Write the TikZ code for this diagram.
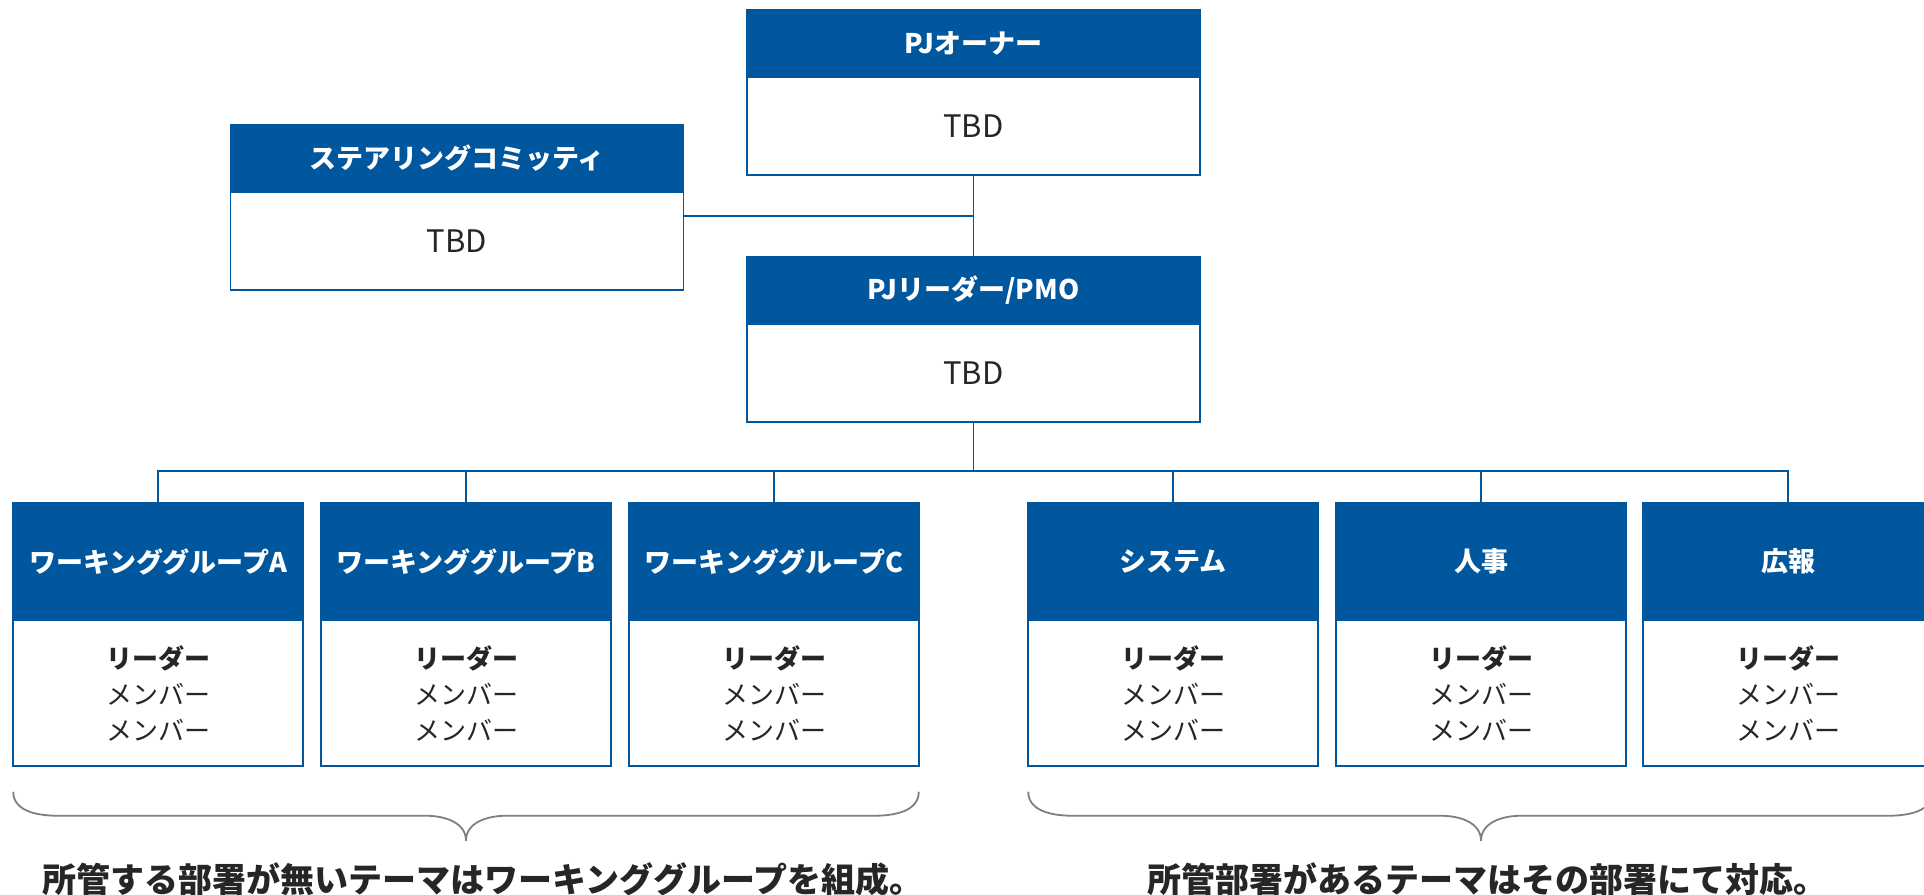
\documentclass[tikz,border=0pt]{standalone}
\usepackage{fontspec}
\setmainfont{Noto Sans CJK JP}
\usetikzlibrary{calc}
\definecolor{hblue}{RGB}{0,87,158}
\definecolor{txt}{RGB}{38,38,38}
\definecolor{brc}{RGB}{127,127,127}
\begin{document}
\begin{tikzpicture}[x=1pt,y=-1pt,
  hdr/.style={fill=hblue,draw=hblue,line width=1.5pt,text=white,font=\fontsize{27}{32}\selectfont\bfseries,inner sep=0pt},
  bdy/.style={fill=white,draw=hblue,line width=1.5pt,text=txt,align=center,inner sep=0pt},
  topw/.style={minimum width=453},
  toph/.style={minimum height=67},
  topb/.style={minimum height=98,font=\fontsize{31}{36}\selectfont},
  botw/.style={minimum width=290},
  both/.style={minimum height=117},
  botb/.style={minimum height=146,font=\fontsize{26}{36}\selectfont},
  conn/.style={draw=hblue,line width=1.8pt},
  bracestyle/.style={draw=brc,line width=1.8pt},
  caption/.style={text=txt,font=\fontsize{34}{40}\selectfont\bfseries,inner sep=0pt}
]
\useasboundingbox (0,0) rectangle (1924,894);

% top boxes
\node[hdr,topw,toph] (own-h) at (973.5,43.5) {PJオーナー};
\node[bdy,topw,topb] (own-b) at (973.5,126) {TBD};
\node[hdr,topw,toph] (st-h) at (457,158.5) {ステアリングコミッティ};
\node[bdy,topw,topb] (st-b) at (457,241) {TBD};
\node[hdr,topw,toph] (ld-h) at (973.5,290.5) {PJリーダー/PMO};
\node[bdy,topw,topb] (ld-b) at (973.5,373) {TBD};

% bottom boxes
\node[hdr,botw,both] (wa-h) at (158,561.5) {ワーキンググループA};
\node[bdy,botw,botb] (wa-b) at (158,693) {\textbf{リーダー}\\メンバー\\メンバー};
\node[hdr,botw,both] (wb-h) at (466,561.5) {ワーキンググループB};
\node[bdy,botw,botb] (wb-b) at (466,693) {\textbf{リーダー}\\メンバー\\メンバー};
\node[hdr,botw,both] (wc-h) at (774,561.5) {ワーキンググループC};
\node[bdy,botw,botb] (wc-b) at (774,693) {\textbf{リーダー}\\メンバー\\メンバー};
\node[hdr,botw,both] (sy-h) at (1173,561.5) {システム};
\node[bdy,botw,botb] (sy-b) at (1173,693) {\textbf{リーダー}\\メンバー\\メンバー};
\node[hdr,botw,both] (jj-h) at (1481,561.5) {人事};
\node[bdy,botw,botb] (jj-b) at (1481,693) {\textbf{リーダー}\\メンバー\\メンバー};
\node[hdr,botw,both] (kh-h) at (1788,561.5) {広報};
\node[bdy,botw,botb] (kh-b) at (1788,693) {\textbf{リーダー}\\メンバー\\メンバー};

% connectors
\coordinate (mid) at ($(own-b.south)!0.5!(ld-h.north)$);
\draw[conn] (own-b.south) -- (ld-h.north);
\draw[conn] (st-b.east |- mid) -- (mid);
\coordinate (bus) at ($(ld-b.south)+(0,48)$);
\draw[conn] (ld-b.south) -- (bus);
\draw[conn] (wa-h.north) -- (wa-h.north |- bus) -- (kh-h.north |- bus) -- (kh-h.north);
\foreach \n in {wb-h,wc-h,sy-h,jj-h}{
  \draw[conn] (\n.north) -- (\n.north |- bus);
}

% braces
\draw[bracestyle] ($(wa-b.south west)+(1,25)$) to[out=-90,in=180] ++(45,24)
  -- ($(wb-b.south)+(-40,49)$) to[out=0,in=90] ++(40,25)
  to[out=90,in=180] ++(40,-25)
  -- ($(wc-b.south east)+(-46,49)$) to[out=0,in=-90] ++(45,-24);
\draw[bracestyle] ($(sy-b.south west)+(1,25)$) to[out=-90,in=180] ++(45,24)
  -- ($(jj-b.south)+(-40,49)$) to[out=0,in=90] ++(40,25)
  to[out=90,in=180] ++(40,-25)
  -- ($(kh-b.south east)+(-46,49)$) to[out=0,in=-90] ++(45,-24);

% captions
\node[caption] (cap1) at (483,879) {所管する部署が無いテーマはワーキンググループを組成。};
\node[caption] (cap2) at (1487,879) {所管部署があるテーマはその部署にて対応。};
\end{tikzpicture}
\end{document}
